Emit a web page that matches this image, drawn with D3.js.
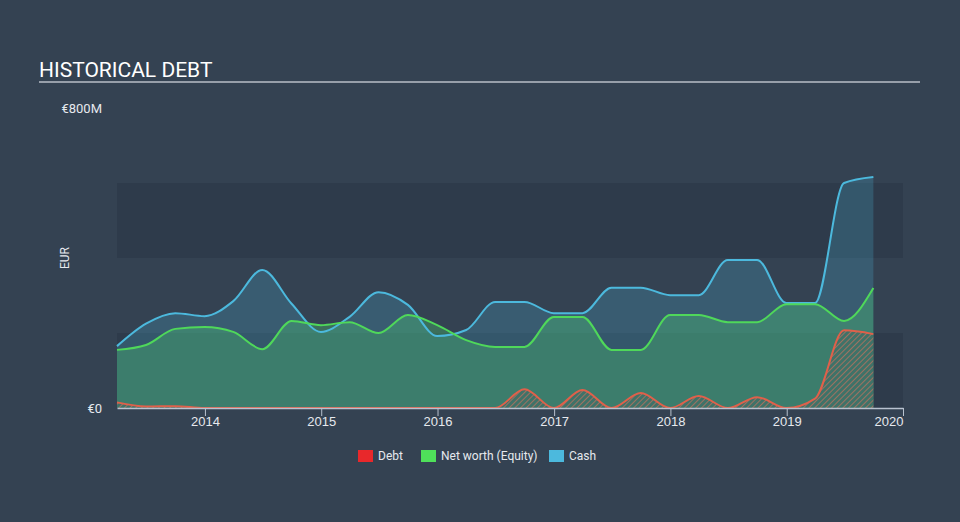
<!DOCTYPE html>
<html><head><meta charset="utf-8">
<script src="https://cdn.jsdelivr.net/npm/d3@7"></script>
<style>
html,body{margin:0;padding:0;background:#344252;}
svg{display:block;font-family:Roboto,"Open Sans",sans-serif;}
</style></head>
<body>
<svg id="c" width="960" height="522"></svg>
<script>
const dates = ["2013-03-31","2013-06-30","2013-09-30","2013-12-31","2014-03-31","2014-06-30","2014-09-30","2014-12-31",
"2015-03-31","2015-06-30","2015-09-30","2015-12-31","2016-03-31","2016-06-30","2016-09-30","2016-12-31",
"2017-03-31","2017-06-30","2017-09-30","2017-12-31","2018-03-31","2018-06-30","2018-09-30","2018-12-31",
"2019-03-31","2019-06-30","2019-09-30"];
const debt   = [15,4,5,0,0,0,0,0, 0,0,0,0,0,0,50,0, 48,0,40,0,32,0,29,0, 25,207,197];
const equity = [155,168,211,216,203,157,232,221, 229,200,248,221,181,163,163,243, 243,155,155,248,248,229,229,277, 277,232,320];
const cash   = [165,225,253,245,285,368,278,203, 243,309,275,192,208,283,283,253, 253,321,321,301,301,395,395,280, 280,600,616];
const yTicks = [0, 800];
const yTickLabels = ["€0", "€800M"];
const legendItems = ["Debt", "Net worth (Equity)", "Cash"];
const legendColors = ["#e8282b", "#4fe05a", "#4cb9dd"];

const parse = d3.timeParse("%Y-%m-%d");
const data = dates.map((d,i)=>({date:parse(d), debt:debt[i], equity:equity[i], cash:cash[i]}));

const svg = d3.select("#c");
const x = d3.scaleTime().domain([data[0].date, parse("2020-01-01")]).range([117, 903]);
const y = d3.scaleLinear().domain([0, 800]).range([408, 108]);

const defs = svg.append("defs");
const pat = defs.append("pattern").attr("id","hatch").attr("patternUnits","userSpaceOnUse")
  .attr("width",4).attr("height",4).attr("patternTransform","rotate(45)");
pat.append("rect").attr("width",4).attr("height",4).attr("fill","#3f7268");
pat.append("line").attr("x1",0).attr("y1",0).attr("x2",0).attr("y2",4)
  .attr("stroke","#b7725f").attr("stroke-width",1.6);

// background bands
svg.selectAll("rect.band").data([0, 400]).enter().append("rect")
  .attr("x", 117).attr("width", 903-117)
  .attr("y", d=>y(d+200)).attr("height", d=>y(d)-y(d+200))
  .attr("fill", "#2e3b4b");

// title
svg.append("text").attr("x",39).attr("y",77).attr("fill","#ffffff")
  .attr("font-size",21).text("HISTORICAL DEBT");
svg.append("line").attr("x1",39).attr("x2",920).attr("y1",82).attr("y2",82)
  .attr("stroke","#b8bfc8").attr("stroke-width",1.5);

const curve = d3.curveMonotoneX;
const area = key => d3.area().x(d=>x(d.date)).y0(y(0)).y1(d=>y(d[key])).curve(curve);
const line = key => d3.line().x(d=>x(d.date)).y(d=>y(d[key])).curve(curve);

svg.append("path").datum(data).attr("d", area("cash")).attr("fill","#4cb9dd").attr("fill-opacity",0.22);
svg.append("path").datum(data).attr("d", area("equity")).attr("fill","#4fd870").attr("fill-opacity",0.3);
svg.append("path").datum(data).attr("d", area("debt")).attr("fill","url(#hatch)");

svg.append("path").datum(data).attr("d", line("cash")).attr("fill","none").attr("stroke","#4cb9dd").attr("stroke-width",2);
svg.append("path").datum(data).attr("d", line("equity")).attr("fill","none").attr("stroke","#4fd85a").attr("stroke-width",2);
svg.append("path").datum(data).attr("d", line("debt")).attr("fill","none").attr("stroke","#e0604a").attr("stroke-width",2);

// x axis
const xAxis = d3.axisBottom(x).ticks(d3.timeYear.every(1)).tickFormat(d3.timeFormat("%Y")).tickSize(8).tickSizeOuter(0);
const gx = svg.append("g").attr("transform","translate(0,408)").call(xAxis);
gx.select(".domain").attr("stroke","#b8c2cf").attr("stroke-width",1.5);
gx.selectAll(".tick line").attr("stroke","#b8c2cf");
gx.selectAll(".tick text").attr("fill","#e6e9ee").attr("font-size",13).attr("dy","0.55em");
const tickNodes = gx.selectAll(".tick text").nodes();
d3.select(tickNodes[tickNodes.length-1]).attr("text-anchor","end");

// y labels
svg.selectAll("text.ylab").data(yTicks).enter().append("text")
  .attr("x",102).attr("y",d=>y(d)+4.5).attr("text-anchor","end")
  .attr("fill","#e6e9ee").attr("font-size",13).text((d,i)=>yTickLabels[i]);
svg.append("text").attr("transform","translate(69,258) rotate(-90)").attr("text-anchor","middle")
  .attr("fill","#e6e9ee").attr("font-size",12).text("EUR");

// legend
const lx = [358, 421, 549];
const lg = svg.selectAll("g.leg").data(legendItems).enter().append("g")
  .attr("transform",(d,i)=>`translate(${lx[i]},450)`);
lg.append("rect").attr("width",15).attr("height",12).attr("fill",(d,i)=>legendColors[i]);
lg.append("text").attr("x",20).attr("y",10).attr("fill","#e6e9ee").attr("font-size",12).text(d=>d);
</script>
</body></html>
